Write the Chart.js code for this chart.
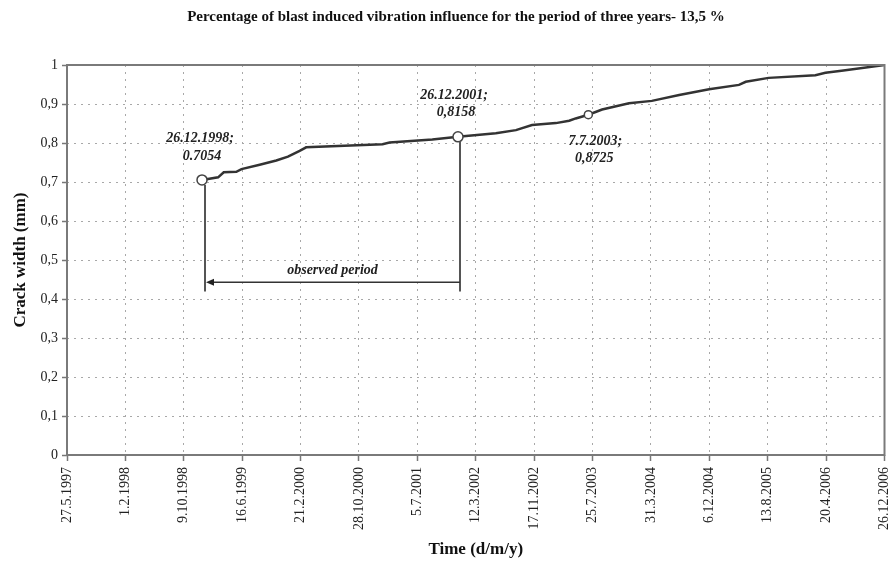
<!DOCTYPE html>
<html>
<head>
<meta charset="utf-8">
<script src="https://cdn.jsdelivr.net/npm/chart.js@4.4.0/dist/chart.umd.min.js"></script>
<style>
  html, body { margin: 0; padding: 0; background: #fff; }
  #wrap { width: 891px; height: 565px; }
</style>
</head>
<body>
<div id="wrap"><canvas id="chart" width="891" height="565"></canvas></div>
<script>
// Time axis: first and last date, ticks every 250 days
const axisStart = '27.5.1997';
const axisEnd = '26.12.2006';
const tickStepDays = 250;

// Measured crack width over time (mm)
const curveDates = [
  '26.12.1998', '5.3.1999', '29.3.1999', '22.5.1999', '13.6.1999', '30.8.1999',
  '9.11.1999', '29.12.1999', '17.2.2000', '16.3.2000', '6.2.2001', '8.3.2001',
  '7.9.2001', '26.12.2001', '6.6.2002', '31.8.2002', '8.11.2002', '18.2.2003',
  '16.4.2003', '14.5.2003', '7.7.2003', '4.9.2003', '28.12.2003', '4.4.2004',
  '30.7.2004', '5.12.2004', '12.4.2005', '11.5.2005', '17.8.2005', '5.3.2006',
  '17.4.2006', '25.6.2006', '26.12.2006'
];
const curveValues = [
  0.7054, 0.712, 0.725, 0.726, 0.733, 0.744,
  0.755, 0.765, 0.780, 0.789, 0.797, 0.801,
  0.809, 0.8158, 0.825, 0.833, 0.846, 0.851,
  0.857, 0.863, 0.8725, 0.886, 0.902, 0.908,
  0.923, 0.938, 0.949, 0.957, 0.967, 0.974,
  0.980, 0.985, 1.0
];

// Highlighted readings
const markDates = ['26.12.1998', '26.12.2001', '7.7.2003'];
const markValues = [0.7054, 0.8158, 0.8725];
const markLabels = [
  ['26.12.1998;', '0.7054'],
  ['26.12.2001;', '0,8158'],
  ['7.7.2003;', '0,8725']
];

// Observed period bracket (crack width levels of the arrow and the line feet)
const periodArrowLevel = 0.443;
const periodFootLevel = 0.419;

const titleText = 'Percentage of blast induced vibration influence for the period of three years- 13,5 %';

function dayNumber(s) {
  const [d, m, y] = s.split('.').map(Number);
  return Date.UTC(y, m - 1, d) / 864e5;
}
const day0 = dayNumber(axisStart);
const toX = s => dayNumber(s) - day0;
function formatDay(dx) {
  const dt = new Date((day0 + dx) * 864e5);
  return dt.getUTCDate() + '.' + (dt.getUTCMonth() + 1) + '.' + dt.getUTCFullYear();
}

const SERIF = '"Liberation Serif", "Times New Roman", serif';

const curvePoints = curveDates.map((d, i) => ({ x: toX(d), y: curveValues[i] }));
const markPoints = markDates.map((d, i) => ({ x: toX(d), y: markValues[i] }));

const decorations = {
  id: 'decorations',
  afterDatasetsDraw(chart) {
    const { ctx, chartArea: a, scales: { x, y } } = chart;
    ctx.save();
    // plot frame
    ctx.strokeStyle = '#7a7a7a';
    ctx.lineWidth = 2;
    ctx.setLineDash([]);
    ctx.strokeRect(a.left, a.top, a.right - a.left, a.bottom - a.top);

    // observed period bracket
    const x1 = x.getPixelForValue(markPoints[0].x) + 3;
    const x2 = x.getPixelForValue(markPoints[1].x) + 2;
    const yFoot = y.getPixelForValue(periodFootLevel);
    const yArrow = y.getPixelForValue(periodArrowLevel);
    ctx.strokeStyle = '#555';
    ctx.lineWidth = 2;
    ctx.beginPath();
    ctx.moveTo(x1, y.getPixelForValue(markPoints[0].y) + 5);
    ctx.lineTo(x1, yFoot);
    ctx.moveTo(x2, y.getPixelForValue(markPoints[1].y) + 5);
    ctx.lineTo(x2, yFoot);
    ctx.stroke();
    ctx.strokeStyle = '#333';
    ctx.lineWidth = 1.3;
    ctx.beginPath();
    ctx.moveTo(x2, yArrow);
    ctx.lineTo(x1 + 6, yArrow);
    ctx.stroke();
    ctx.fillStyle = '#222';
    ctx.beginPath();
    ctx.moveTo(x1 + 1, yArrow);
    ctx.lineTo(x1 + 9, yArrow - 3.5);
    ctx.lineTo(x1 + 9, yArrow + 3.5);
    ctx.closePath();
    ctx.fill();

    ctx.font = 'italic bold 14px ' + SERIF;
    ctx.textAlign = 'center';
    ctx.textBaseline = 'middle';
    ctx.fillText('observed period', (x1 + x2) / 2, yArrow - 12);

    // reading labels
    const offsets = [[[-2, -42], [0, -24]], [[-4, -41], [-2, -24]], [[7, 27], [6, 44]]];
    markPoints.forEach((p, i) => {
      const px = x.getPixelForValue(p.x);
      const py = y.getPixelForValue(p.y);
      markLabels[i].forEach((t, j) => {
        ctx.fillText(t, px + offsets[i][j][0], py + offsets[i][j][1]);
      });
    });

    // chart title
    ctx.font = 'bold 15px ' + SERIF;
    ctx.fillStyle = '#111';
    ctx.fillText(titleText, 456, 17);
    ctx.restore();
  }
};

new Chart(document.getElementById('chart'), {
  type: 'line',
  data: {
    datasets: [
      {
        type: 'scatter',
        data: markPoints,
        pointRadius: [5, 5, 4],
        pointBackgroundColor: '#fff',
        pointBorderColor: '#444',
        pointBorderWidth: 1.5,
        order: 0
      },
      {
        data: curvePoints,
        borderColor: '#333',
        borderWidth: 2.5,
        pointRadius: 0,
        tension: 0,
        fill: false,
        order: 1
      }
    ]
  },
  options: {
    responsive: false,
    animation: false,
    devicePixelRatio: 1,
    layout: { padding: { top: 65, right: 5, left: 0, bottom: 0 } },
    plugins: { legend: { display: false }, tooltip: { enabled: false }, title: { display: false } },
    scales: {
      x: {
        type: 'linear',
        min: 0,
        max: toX(axisEnd),
        afterFit: s => { s.height = 110; s.paddingLeft = 0; s.paddingRight = 0; },
        ticks: {
          stepSize: tickStepDays,
          autoSkip: false,
          maxRotation: 90,
          minRotation: 90,
          padding: 6,
          color: '#222',
          font: { family: SERIF, size: 14 },
          callback: v => formatDay(v)
        },
        grid: {
          color: '#a8a8a8',
          lineWidth: 1,
          tickLength: 6,
          tickColor: '#777',
          tickBorderDash: [],
          tickWidth: 1.5
        },
        border: { display: false, dash: [2, 5] },
        title: {
          display: true,
          text: 'Time (d/m/y)',
          color: '#111',
          font: { family: SERIF, size: 17, weight: 'bold' },
          padding: { top: 0, bottom: 5 }
        }
      },
      y: {
        min: 0,
        max: 1,
        afterFit: s => { s.width = 67; s.paddingTop = 0; s.paddingBottom = 0; },
        ticks: {
          stepSize: 0.1,
          padding: 4,
          color: '#222',
          font: { family: SERIF, size: 14 },
          callback: v => (v === 0 ? '0' : v === 1 ? '1' : v.toFixed(1).replace('.', ','))
        },
        grid: {
          color: '#a8a8a8',
          lineWidth: 1,
          tickLength: 5,
          tickColor: '#777',
          tickBorderDash: [],
          tickWidth: 1.5
        },
        border: { display: false, dash: [2, 5] },
        title: {
          display: true,
          text: 'Crack width (mm)',
          color: '#111',
          font: { family: SERIF, size: 17, weight: 'bold' },
          padding: { top: 10, bottom: 0 }
        }
      }
    }
  },
  plugins: [decorations]
});
</script>
</body>
</html>
